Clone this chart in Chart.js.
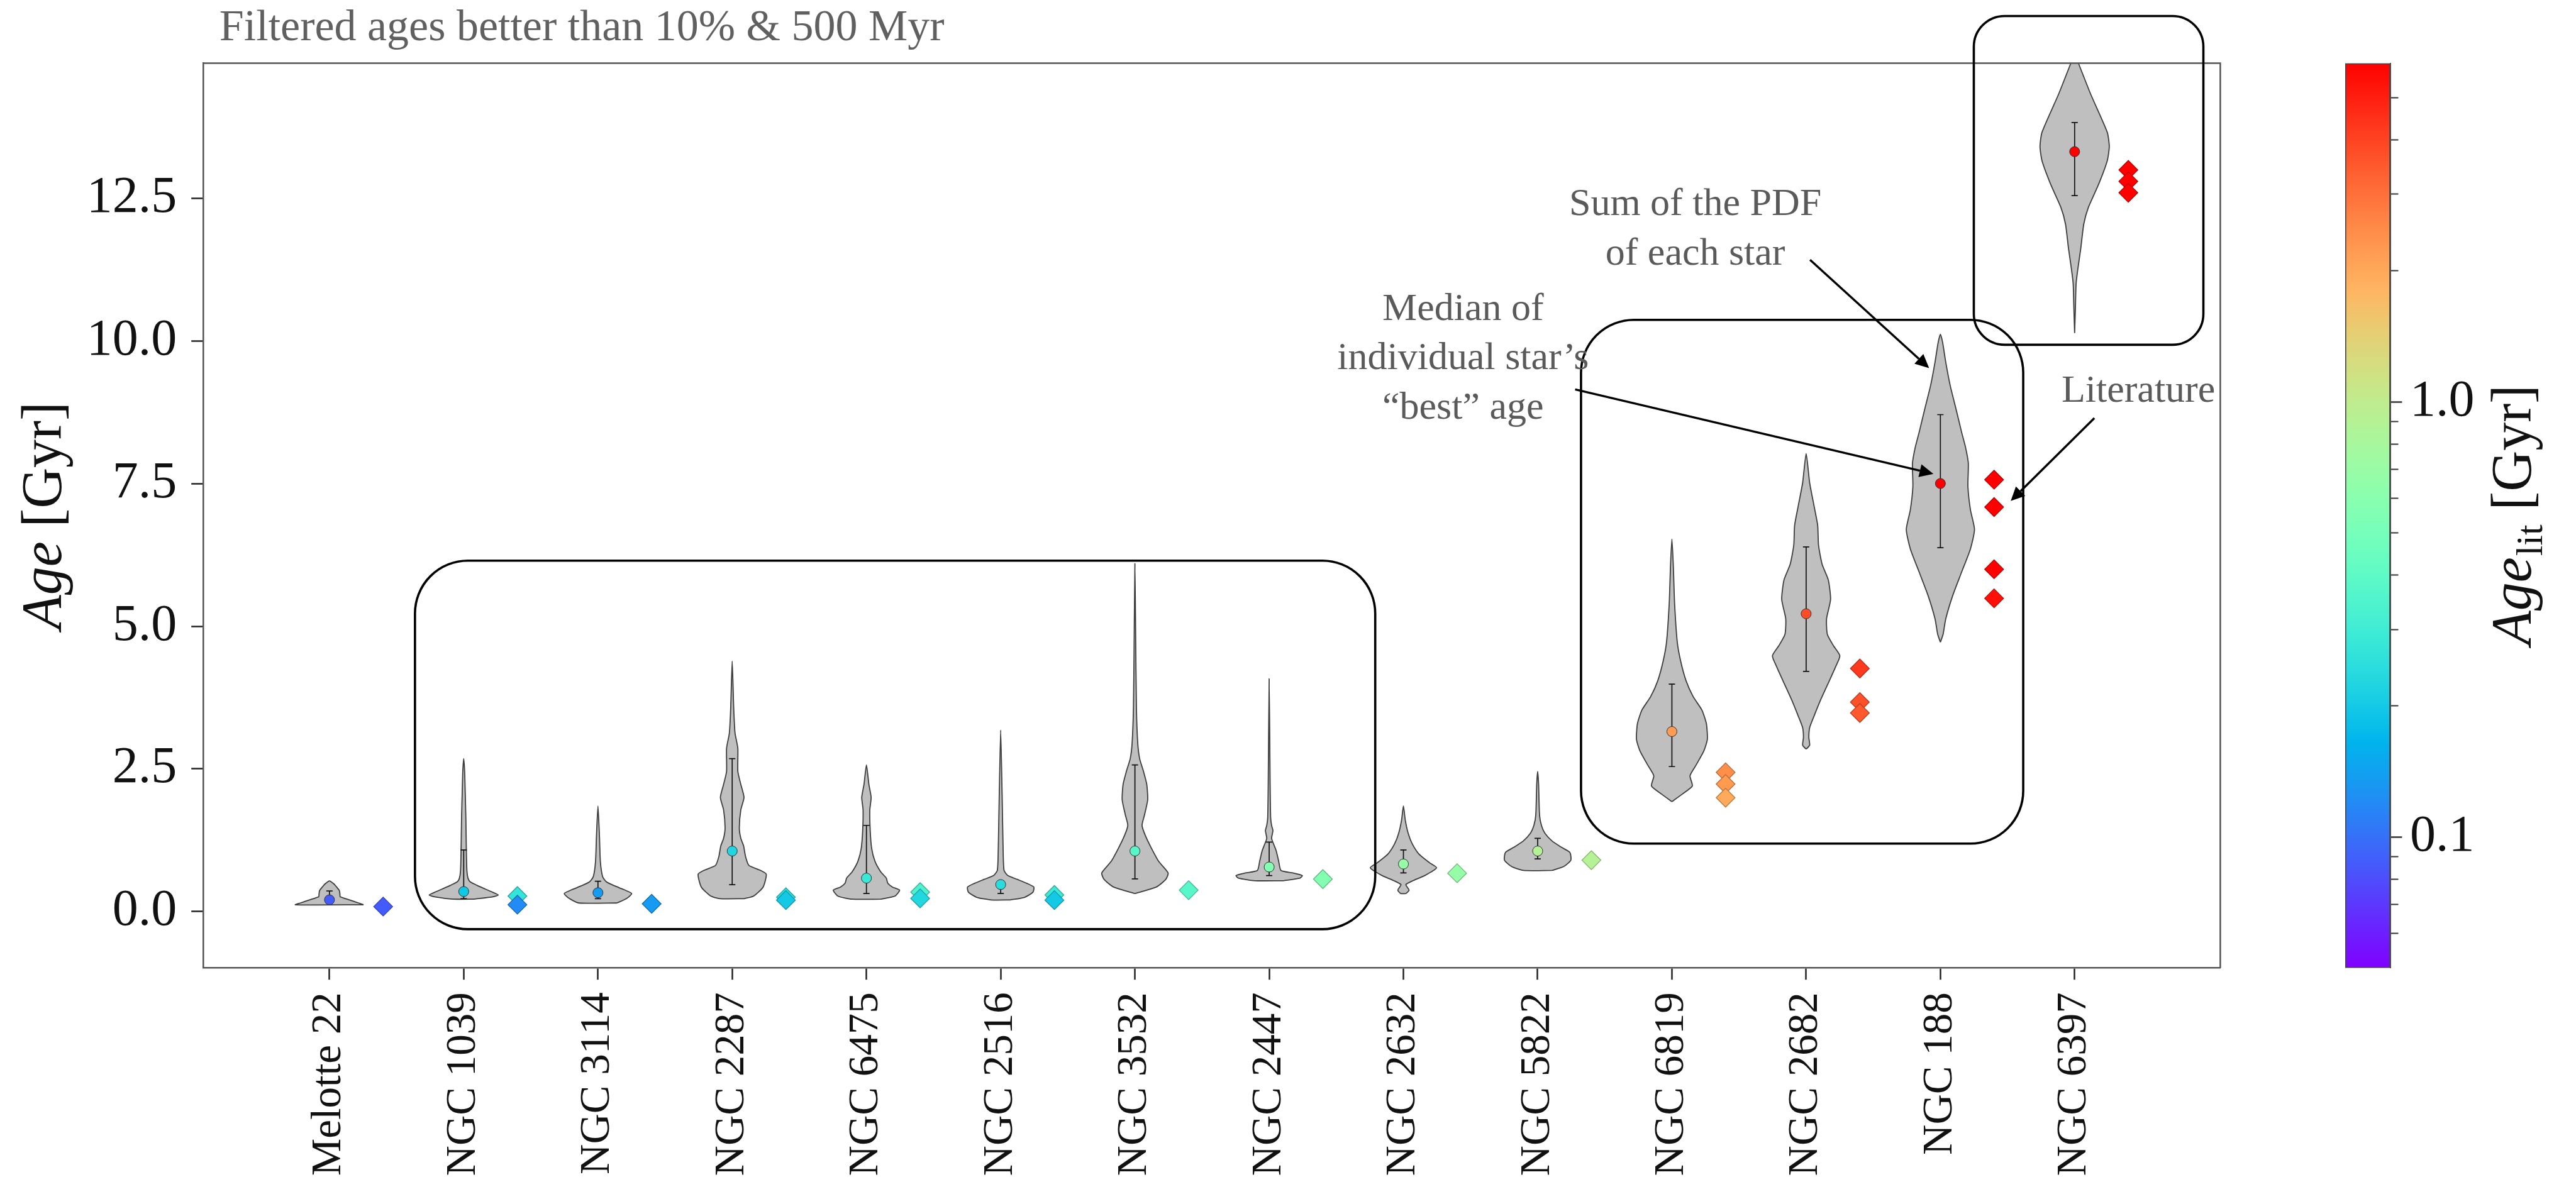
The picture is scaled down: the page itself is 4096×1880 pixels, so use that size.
<!DOCTYPE html>
<html>
<head>
<meta charset="utf-8">
<title>Cluster ages</title>
<script src="https://cdn.jsdelivr.net/npm/chart.js@4.4.1/dist/chart.umd.min.js"></script>
<style>
  html, body { margin: 0; padding: 0; background: #ffffff; }
  #wrap { position: relative; width: 4096px; height: 1880px; overflow: hidden; background: #ffffff; }
  #main { position: absolute; left: 0; top: 0; }
  #cbar { position: absolute; left: 3700px; top: 0; }
</style>
</head>
<body>
<div id="wrap">
  <canvas id="main" width="4096" height="1880"></canvas>
  <canvas id="cbar" width="396" height="1880"></canvas>
</div>
<script>
// ---- data -------------------------------------------------------------
const clusters = ['Melotte 22', 'NGC 1039', 'NGC 3114', 'NGC 2287', 'NGC 6475', 'NGC 2516', 'NGC 3532',
                  'NGC 2447', 'NGC 2632', 'NGC 5822', 'NGC 6819', 'NGC 2682', 'NGC 188', 'NGC 6397'];

// median of the individual "best" ages (Gyr) and its spread
const medianAge = [0.205, 0.35, 0.33, 1.06, 0.585, 0.473, 1.06, 0.78, 0.833, 1.06, 3.155, 5.22, 7.503, 13.32];
const errLow    = [0.15, 0.226, 0.225, 0.47, 0.315, 0.315, 0.572, 0.63, 0.676, 0.923, 2.541, 4.21, 6.378, 12.55];
const errHigh   = [0.36, 1.08, 0.53, 2.68, 1.51, 0.54, 2.57, 1.216, 1.08, 1.284, 3.986, 6.392, 8.71, 13.83];

// literature ages (Gyr), one entry per published value
const litCluster = [0, 1, 1, 2, 3, 3, 4, 4, 5, 5, 6, 7, 8, 9, 10, 10, 10, 11, 11, 11, 12, 12, 12, 12, 13, 13, 13];
const litAge     = [0.087, 0.27, 0.12, 0.135, 0.25, 0.2, 0.34, 0.23, 0.29, 0.2, 0.374, 0.568, 0.671, 0.9,
                    2.44, 2.235, 1.995, 4.26, 3.67, 3.48, 7.57, 7.09, 6.0, 5.49, 13.0, 12.8, 12.6];

// summed PDF of each cluster: ages (Gyr) and half-width of the density profile
const violinAge = [
  [0.118, 0.149, 0.18, 0.22, 0.258, 0.30, 0.366, 0.444, 0.49, 0.537],
  [0.217, 0.258, 0.289, 0.335, 0.397, 0.459, 0.521, 0.583, 0.707, 1.02, 1.64, 2.1, 2.45, 2.68],
  [0.149, 0.225, 0.315, 0.383, 0.45, 0.518, 0.608, 0.878, 1.33, 1.85],
  [0.225, 0.27, 0.428, 0.653, 0.72, 0.81, 0.968, 1.149, 1.284, 1.464, 1.78, 2.0, 2.23, 2.455, 2.86, 3.13, 3.58, 4.39],
  [0.216, 0.27, 0.374, 0.428, 0.495, 0.585, 0.698, 0.878, 1.104, 1.419, 1.78, 2.0, 2.23, 2.57],
  [0.203, 0.248, 0.338, 0.428, 0.495, 0.563, 0.631, 0.721, 1.10, 2.0, 3.18],
  [0.315, 0.428, 0.563, 0.676, 0.878, 1.104, 1.329, 1.509, 1.689, 1.96, 2.23, 2.455, 2.68, 2.95, 3.58, 4.93, 6.1],
  [0.54, 0.586, 0.63, 0.676, 0.72, 0.878, 1.059, 1.171, 1.284, 1.419, 1.509, 1.644, 2.23, 4.08],
  [0.315, 0.374, 0.428, 0.473, 0.54, 0.63, 0.766, 0.856, 1.014, 1.194, 1.374, 1.6, 1.85],
  [0.72, 0.788, 0.9, 1.036, 1.126, 1.239, 1.374, 1.509, 1.689, 2.23, 2.455],
  [1.927, 2.063, 2.20, 2.38, 2.575, 2.814, 3.018, 3.29, 3.529, 3.768, 4.041, 4.381, 4.722, 5.403, 6.086, 6.528],
  [2.847, 2.915, 3.052, 3.222, 3.427, 3.699, 4.04, 4.313, 4.483, 4.654, 4.858, 5.131, 5.472, 5.813, 6.086, 6.426, 6.767, 7.108, 7.517, 8.028],
  [4.722, 4.858, 5.131, 5.54, 5.949, 6.358, 6.698, 7.039, 7.449, 7.858, 8.13, 8.403, 8.812, 9.221, 9.63, 9.97, 10.12],
  [10.14, 10.6, 11.01, 11.3, 11.63, 12.05, 12.34, 12.75, 13.16, 13.41, 13.66, 14.32, 14.86, 15.03]
];
const violinHalfWidth = [
  [0.254, 0.217, 0.178, 0.128, 0.08, 0.078, 0.074, 0.048, 0.03, 0],
  [0.079, 0.218, 0.257, 0.218, 0.158, 0.099, 0.048, 0.032, 0.024, 0.02, 0.016, 0.011, 0.007, 0],
  [0.141, 0.212, 0.251, 0.194, 0.124, 0.064, 0.035, 0.018, 0.011, 0],
  [0.09, 0.159, 0.23, 0.254, 0.212, 0.124, 0.099, 0.085, 0.064, 0.053, 0.064, 0.088, 0.064, 0.042, 0.042, 0.021, 0.011, 0],
  [0.106, 0.212, 0.247, 0.194, 0.159, 0.148, 0.106, 0.064, 0.039, 0.028, 0.025, 0.035, 0.018, 0],
  [0.071, 0.177, 0.24, 0.247, 0.194, 0.124, 0.053, 0.025, 0.018, 0.011, 0],
  [0, 0.159, 0.23, 0.247, 0.177, 0.124, 0.078, 0.053, 0.071, 0.095, 0.088, 0.064, 0.035, 0.021, 0.011, 0.005, 0],
  [0.106, 0.23, 0.247, 0.177, 0.088, 0.071, 0.053, 0.035, 0.018, 0.028, 0.018, 0.011, 0.007, 0],
  [0.02, 0.042, 0.028, 0.018, 0.071, 0.159, 0.247, 0.194, 0.113, 0.064, 0.035, 0.014, 0],
  [0.106, 0.194, 0.247, 0.24, 0.177, 0.106, 0.053, 0.028, 0.014, 0.007, 0],
  [0, 0.08, 0.152, 0.135, 0.182, 0.238, 0.264, 0.257, 0.224, 0.158, 0.106, 0.066, 0.04, 0.02, 0.01, 0],
  [0, 0.026, 0.02, 0.026, 0.059, 0.106, 0.172, 0.224, 0.251, 0.205, 0.158, 0.152, 0.182, 0.165, 0.119, 0.092, 0.086, 0.059, 0.026, 0],
  [0, 0.02, 0.04, 0.092, 0.158, 0.224, 0.254, 0.224, 0.205, 0.208, 0.188, 0.158, 0.116, 0.073, 0.04, 0.017, 0],
  [0, 0.006, 0.011, 0.026, 0.046, 0.068, 0.102, 0.179, 0.243, 0.258, 0.243, 0.121, 0.03, 0]
];

// tick labels
const yTicks = [0, 2.5, 5, 7.5, 10, 12.5];
const cbarMajorTicks = [0.1, 1];
const cbarMinorTicks = [0.06, 0.07, 0.08, 0.09, 0.2, 0.3, 0.4, 0.5, 0.6, 0.7, 0.8, 0.9, 2, 3, 4, 5];

// axis and colour ranges
const yRange = [-0.99, 14.87];
const xRange = [-0.942, 14.085];
const cbarRange = [0.05, 6.0];
const litOffset = 0.4;

// ---- colour map (rainbow on a log scale) ---------------------------------
function rainbowRGB(t) {
  const c = v => Math.round(255 * Math.min(1, Math.max(0, v)));
  return [c(Math.abs(2 * t - 0.5)), c(Math.sin(Math.PI * t)), c(Math.cos(Math.PI * t / 2))];
}
function normAge(v) {
  const t = Math.log(v / cbarRange[0]) / Math.log(cbarRange[1] / cbarRange[0]);
  return Math.min(1, Math.max(0, t));
}
const rgbStr = (c, k = 1) => `rgb(${Math.round(c[0] * k)},${Math.round(c[1] * k)},${Math.round(c[2] * k)})`;
const ageColor = (v, k = 1) => rgbStr(rainbowRGB(normAge(v)), k);

// median dots take the mean literature age of their cluster
const dotColors = clusters.map((_, i) => {
  const vals = litAge.filter((_, j) => litCluster[j] === i);
  return ageColor(vals.reduce((a, b) => a + b, 0) / vals.length);
});

// ---- violin outlines -------------------------------------------------------
function violinOutline(i) {
  const ys = violinAge[i], ws = violinHalfWidth[i], n = ys.length;
  const pts = [];
  for (let k = 0; k < n; k++) pts.push({ x: i + ws[k], y: ys[k] });
  const startLeft = ws[n - 1] === 0 ? n - 2 : n - 1;
  for (let k = startLeft; k >= 0; k--) pts.push({ x: i - ws[k], y: ys[k] });
  if (ws[0] > 0) pts.push({ x: i + ws[0], y: ys[0] });
  return pts;
}

// ---- annotations (data coordinates) -------------------------------------------
const noteBoxes = [
  { x0: 0.637, x1: 7.79, y0: -0.31, y1: 6.15, r: 84 },
  { x0: 9.323, x1: 12.617, y0: 1.19, y1: 10.372, r: 84 },
  { x0: 12.249, x1: 13.959, y0: 9.935, y1: 15.698, r: 49 }
];
const noteTexts = [
  { lines: ['Sum of the PDF', 'of each star'], x: 10.174, y: 12.207, align: 'center' },
  { lines: ['Median of', 'individual star\u2019s', '\u201cbest\u201d age'], x: 8.444, y: 10.372, align: 'center' },
  { lines: ['Literature'], x: 12.902, y: 8.939, align: 'left' }
];
const noteArrows = [
  { from: [11.029, 11.425], to: [11.916, 9.525] },
  { from: [9.279, 9.153], to: [11.948, 7.672] },
  { from: [13.147, 8.650], to: [12.524, 7.197] }
];
const titleText = 'Filtered ages better than 10% & 500 Myr';

const SERIF = '"Liberation Serif", "DejaVu Serif", serif';
Chart.defaults.font.family = SERIF;

function roundRectPath(ctx, x0, y0, x1, y1, r) {
  const left = Math.min(x0, x1), right = Math.max(x0, x1);
  const top = Math.min(y0, y1), bottom = Math.max(y0, y1);
  ctx.beginPath();
  ctx.moveTo(left + r, top);
  ctx.lineTo(right - r, top);
  ctx.arcTo(right, top, right, top + r, r);
  ctx.lineTo(right, bottom - r);
  ctx.arcTo(right, bottom, right - r, bottom, r);
  ctx.lineTo(left + r, bottom);
  ctx.arcTo(left, bottom, left, bottom - r, r);
  ctx.lineTo(left, top + r);
  ctx.arcTo(left, top, left + r, top, r);
  ctx.closePath();
}

function drawArrow(ctx, x0, y0, x1, y1) {
  const ang = Math.atan2(y1 - y0, x1 - x0);
  const headLen = 22, headHalf = 10.5;
  const bx = x1 - headLen * Math.cos(ang), by = y1 - headLen * Math.sin(ang);
  ctx.beginPath();
  ctx.moveTo(x0, y0);
  ctx.lineTo(bx, by);
  ctx.stroke();
  ctx.beginPath();
  ctx.moveTo(x1, y1);
  ctx.lineTo(bx + headHalf * Math.sin(ang), by - headHalf * Math.cos(ang));
  ctx.lineTo(bx - headHalf * Math.sin(ang), by + headHalf * Math.cos(ang));
  ctx.closePath();
  ctx.fill();
}

const decorations = {
  id: 'decorations',
  afterDatasetsDraw(chart) {
    const { ctx, chartArea: a } = chart;
    ctx.save();
    ctx.strokeStyle = '#555555';
    ctx.lineWidth = 2.5;
    ctx.beginPath();
    ctx.moveTo(a.left, a.top);
    ctx.lineTo(a.right, a.top);
    ctx.lineTo(a.right, a.bottom);
    ctx.stroke();
    ctx.restore();
  },
  afterDraw(chart) {
    const { ctx, chartArea: a, scales } = chart;
    const px = v => scales.x.getPixelForValue(v);
    const py = v => scales.y.getPixelForValue(v);
    ctx.save();

    // title
    ctx.fillStyle = '#606060';
    ctx.font = `70px ${SERIF}`;
    ctx.textAlign = 'left';
    ctx.textBaseline = 'alphabetic';
    ctx.fillText(titleText, a.left + 26, 63.5);

    // y axis label: italic symbol plus unit
    ctx.save();
    ctx.translate(97, (a.top + a.bottom) / 2);
    ctx.rotate(-Math.PI / 2);
    ctx.fillStyle = '#111111';
    const fItal = `italic 90px ${SERIF}`, fUp = `90px ${SERIF}`;
    ctx.font = fItal; const w1 = ctx.measureText('Age').width;
    ctx.font = fUp; const w2 = ctx.measureText(' [Gyr]').width;
    let x0 = -(w1 + w2) / 2;
    ctx.textAlign = 'left';
    ctx.font = fItal; ctx.fillText('Age', x0, 0);
    ctx.font = fUp; ctx.fillText(' [Gyr]', x0 + w1, 0);
    ctx.restore();

    // rounded boxes
    ctx.strokeStyle = '#000000';
    ctx.lineWidth = 3.6;
    noteBoxes.forEach(b => {
      roundRectPath(ctx, px(b.x0), py(b.y1), px(b.x1), py(b.y0), b.r);
      ctx.stroke();
    });

    // arrows
    ctx.fillStyle = '#000000';
    ctx.lineWidth = 3.4;
    noteArrows.forEach(ar => drawArrow(ctx, px(ar.from[0]), py(ar.from[1]), px(ar.to[0]), py(ar.to[1])));

    // annotation text
    ctx.fillStyle = '#5a5a5a';
    ctx.font = `62px ${SERIF}`;
    ctx.textBaseline = 'alphabetic';
    noteTexts.forEach(t => {
      ctx.textAlign = t.align;
      t.lines.forEach((line, k) => ctx.fillText(line, px(t.x), py(t.y) + k * 78.6));
    });
    ctx.restore();
  }
};

// ---- main chart ----------------------------------------------------------
const violinSets = clusters.map((name, i) => ({
  type: 'line',
  label: name,
  data: violinOutline(i),
  fill: 'shape',
  backgroundColor: '#bfbfbf',
  borderColor: '#3d3d3d',
  borderWidth: 1.8,
  borderJoinStyle: 'round',
  pointRadius: 0,
  tension: 0.2,
  order: 3
}));

const errorSets = clusters.map((name, i) => ({
  type: 'line',
  label: name + ' spread',
  data: [{ x: i, y: errLow[i] }, { x: i, y: errHigh[i] }],
  fill: false,
  borderColor: '#111111',
  borderWidth: 1.7,
  pointStyle: 'line',
  pointRadius: 5,
  pointBorderColor: '#111111',
  pointBorderWidth: 1.7,
  tension: 0,
  order: 1
}));

const litSet = {
  type: 'scatter',
  label: 'Literature',
  data: litAge.map((v, j) => ({ x: litCluster[j] + litOffset, y: v })),
  pointStyle: 'rectRot',
  pointRadius: 15,
  backgroundColor: litAge.map(v => ageColor(v)),
  borderColor: litAge.map(v => ageColor(v, 0.72)),
  borderWidth: 1.3,
  order: 2
};

const medianSet = {
  type: 'scatter',
  label: 'Median',
  data: medianAge.map((v, i) => ({ x: i, y: v })),
  pointRadius: 8,
  pointBackgroundColor: dotColors,
  pointBorderColor: '#333333',
  pointBorderWidth: 1,
  order: 0
};

new Chart(document.getElementById('main'), {
  type: 'scatter',
  data: { datasets: [medianSet, ...errorSets, litSet, ...violinSets] },
  options: {
    responsive: false,
    animation: false,
    devicePixelRatio: 1,
    events: [],
    layout: { padding: { left: 0, top: 100.6, right: 565.6, bottom: 0 } },
    plugins: { legend: { display: false }, tooltip: { enabled: false }, title: { display: false } },
    scales: {
      x: {
        type: 'linear',
        min: xRange[0],
        max: xRange[1],
        afterBuildTicks: s => { s.ticks = clusters.map((_, i) => ({ value: i })); },
        afterFit: s => { s.height = 340.4; },
        ticks: {
          autoSkip: false,
          maxRotation: 90,
          minRotation: 90,
          padding: 20,
          color: '#111111',
          font: { size: 67, family: SERIF },
          callback: v => clusters[v] ?? ''
        },
        grid: { drawOnChartArea: false, drawTicks: true, tickLength: 18.6, tickWidth: 2.5, tickColor: '#222222' },
        border: { display: true, color: '#555555', width: 2.5 }
      },
      y: {
        type: 'linear',
        min: yRange[0],
        max: yRange[1],
        afterBuildTicks: s => { s.ticks = yTicks.map(v => ({ value: v })); },
        afterFit: s => { s.width = 322.8; },
        ticks: {
          padding: 23,
          color: '#111111',
          font: { size: 82, family: SERIF },
          callback: v => Number(v).toFixed(1)
        },
        grid: { drawOnChartArea: false, drawTicks: true, tickLength: 18.6, tickWidth: 2.5, tickColor: '#222222' },
        border: { display: true, color: '#555555', width: 2.5 }
      }
    }
  },
  plugins: [decorations]
});

// ---- colour bar ------------------------------------------------------------
const cbarLabel = {
  id: 'cbarLabel',
  afterDraw(chart) {
    const { ctx, chartArea: a } = chart;
    ctx.save();
    ctx.translate(324, (a.top + a.bottom) / 2);
    ctx.rotate(-Math.PI / 2);
    ctx.fillStyle = '#111111';
    ctx.textBaseline = 'alphabetic';
    ctx.textAlign = 'left';
    const fItal = `italic 90px ${SERIF}`, fSub = `60px ${SERIF}`, fUp = `90px ${SERIF}`;
    ctx.font = fItal; const w1 = ctx.measureText('Age').width;
    ctx.font = fSub; const w2 = ctx.measureText('lit').width;
    ctx.font = fUp; const w3 = ctx.measureText(' [Gyr]').width;
    const x0 = -(w1 + w2 + w3) / 2;
    ctx.font = fItal; ctx.fillText('Age', x0, 0);
    ctx.font = fSub; ctx.fillText('lit', x0 + w1 + 2, 18);
    ctx.font = fUp; ctx.fillText(' [Gyr]', x0 + w1 + w2 + 2, 0);
    ctx.restore();
  }
};

function cbarGradient(context) {
  const chart = context.chart;
  const a = chart.chartArea;
  if (!a) return '#888888';
  const g = chart.ctx.createLinearGradient(0, a.bottom, 0, a.top);
  const N = 64;
  for (let k = 0; k <= N; k++) g.addColorStop(k / N, rgbStr(rainbowRGB(k / N)));
  return g;
}

new Chart(document.getElementById('cbar'), {
  type: 'bar',
  data: {
    labels: [''],
    datasets: [{
      label: 'Age_lit',
      data: [[cbarRange[0], cbarRange[1]]],
      backgroundColor: cbarGradient,
      borderColor: '#444444',
      borderWidth: 2,
      borderSkipped: false,
      barPercentage: 1,
      categoryPercentage: 1,
      yAxisID: 'y'
    }]
  },
  options: {
    responsive: false,
    animation: false,
    devicePixelRatio: 1,
    events: [],
    layout: { padding: { left: 29, top: 100.6, right: 0, bottom: 340.4 } },
    plugins: { legend: { display: false }, tooltip: { enabled: false } },
    scales: {
      x: { display: false },
      ym: {
        type: 'logarithmic',
        position: 'right',
        weight: 0,
        min: cbarRange[0],
        max: cbarRange[1],
        afterBuildTicks: s => { s.ticks = cbarMinorTicks.map(v => ({ value: v })); },
        afterFit: s => { s.width = 0; },
        ticks: { display: false },
        grid: { drawOnChartArea: false, drawTicks: true, tickLength: 12.7, tickWidth: 2, tickColor: '#333333' },
        border: { display: false }
      },
      y: {
        type: 'logarithmic',
        position: 'right',
        weight: 1,
        min: cbarRange[0],
        max: cbarRange[1],
        afterBuildTicks: s => { s.ticks = cbarMajorTicks.map(v => ({ value: v })); },
        afterFit: s => { s.width = 295.2; },
        ticks: {
          padding: 12.6,
          color: '#111111',
          font: { size: 82, family: SERIF },
          callback: v => Number(v).toFixed(1)
        },
        grid: { drawOnChartArea: false, drawTicks: true, tickLength: 18.6, tickWidth: 2.5, tickColor: '#333333' },
        border: { display: true, color: '#555555', width: 2 }
      }
    }
  },
  plugins: [cbarLabel]
});
</script>
</body>
</html>
